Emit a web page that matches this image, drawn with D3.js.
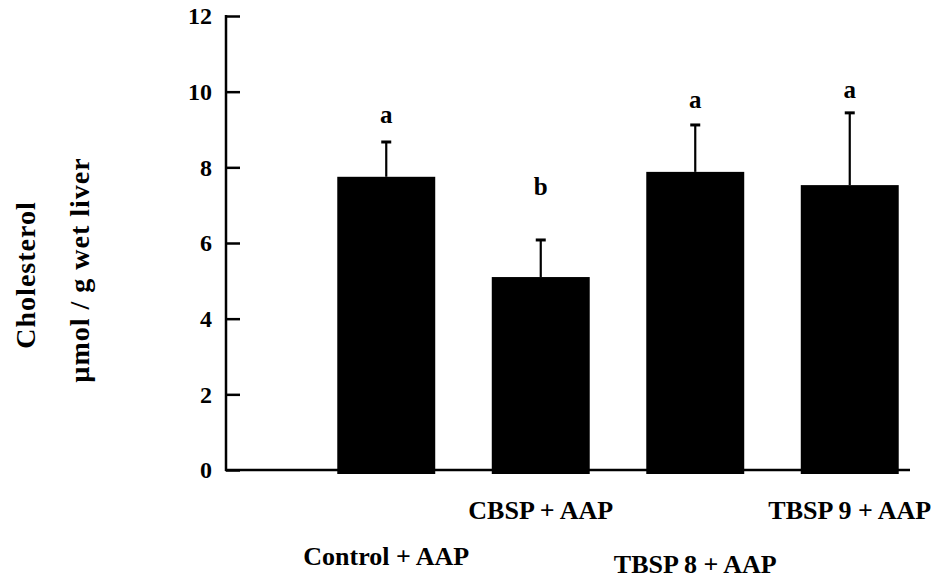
<!DOCTYPE html>
<html lang="en">

<head>
  <meta charset="UTF-8">
  <title>Cholesterol</title>
  <script src="https://d3js.org/d3.v7.min.js"></script>
  <style>
    body { margin: 0; background: #fff; }
    text { font-family: "Liberation Serif", "Times New Roman", serif; font-weight: bold; fill: #000; }
  </style>
</head>

<body>
  <div id="root"></div>
  <script>
    // values
    const groups = ['Control + AAP', 'CBSP + AAP', 'TBSP 8 + AAP', 'TBSP 9 + AAP'];
    const means = [7.75, 5.10, 7.88, 7.53];
    const sds = [0.92, 0.98, 1.24, 1.91];
    const letters = ['a', 'b', 'a', 'a'];
    const letterAt = [9.17, 7.27, 9.57, 9.83]; // height of the letter, in data units
    const yTicks = [0, 2, 4, 6, 8, 10, 12];

    const width = 933, height = 580;
    const svg = d3.select('#root').append('svg').attr('width', width).attr('height', height);

    const y = d3.scaleLinear().domain([0, 12]).range([470, 16]);
    const x = d3.scaleBand().domain(groups).range([309, 927])
      .paddingInner(0.366).paddingOuter(0.183);

    // bars
    svg.selectAll('rect.bar').data(groups).enter()
      .append('rect')
      .attr('class', 'bar')
      .attr('x', d => x(d))
      .attr('y', (d, i) => y(means[i]))
      .attr('width', x.bandwidth())
      .attr('height', (d, i) => y(0) - y(means[i]) + 4)
      .attr('fill', '#000');

    // error bars (upper only)
    const err = svg.selectAll('g.err').data(groups).enter()
      .append('g').attr('class', 'err')
      .attr('transform', d => `translate(${x(d) + x.bandwidth() / 2},0)`);
    err.append('line')
      .attr('x1', 0).attr('x2', 0)
      .attr('y1', (d, i) => y(means[i]))
      .attr('y2', (d, i) => y(means[i] + sds[i]))
      .attr('stroke', '#000').attr('stroke-width', 2.2);
    err.append('line')
      .attr('x1', -5).attr('x2', 5)
      .attr('y1', (d, i) => y(means[i] + sds[i]))
      .attr('y2', (d, i) => y(means[i] + sds[i]))
      .attr('stroke', '#000').attr('stroke-width', 3);

    // significance letters
    svg.selectAll('text.sig').data(groups).enter()
      .append('text').attr('class', 'sig')
      .attr('x', d => x(d) + x.bandwidth() / 2)
      .attr('y', (d, i) => y(letterAt[i]))
      .attr('text-anchor', 'middle')
      .style('font-size', '25px')
      .text((d, i) => letters[i]);

    // y axis with inward ticks
    const yAxis = d3.axisRight(y).tickValues(yTicks).tickSize(14).tickFormat('');
    const ya = svg.append('g').attr('transform', 'translate(226,0)').call(yAxis);
    ya.select('.domain').remove();
    ya.selectAll('.tick line').attr('stroke', '#000').attr('stroke-width', 2.5);
    svg.append('line')
      .attr('x1', 226).attr('x2', 226).attr('y1', y(12) - 1).attr('y2', y(0) + 1)
      .attr('stroke', '#000').attr('stroke-width', 2.5);

    svg.selectAll('text.ytick').data(yTicks).enter()
      .append('text').attr('class', 'ytick')
      .attr('x', 212)
      .attr('y', d => y(d))
      .attr('dy', '0.35em')
      .attr('text-anchor', 'end')
      .style('font-size', '24px')
      .text(d => d);

    // x axis baseline
    svg.append('line')
      .attr('x1', 225).attr('x2', 910).attr('y1', y(0)).attr('y2', y(0))
      .attr('stroke', '#000').attr('stroke-width', 2.5);

    // staggered group labels
    const rowY = [565, 519, 573, 519];
    svg.selectAll('text.xlab').data(groups).enter()
      .append('text').attr('class', 'xlab')
      .attr('x', d => x(d) + x.bandwidth() / 2)
      .attr('y', (d, i) => rowY[i])
      .attr('text-anchor', 'middle')
      .style('font-size', '26px')
      .text(d => d);

    // y title, two lines
    svg.append('text')
      .attr('transform', 'translate(35,275) rotate(-90)')
      .attr('text-anchor', 'middle')
      .style('font-size', '28px')
      .style('letter-spacing', '1px')
      .text('Cholesterol');
    svg.append('text')
      .attr('transform', 'translate(89,270) rotate(-90)')
      .attr('text-anchor', 'middle')
      .style('font-size', '28px')
      .style('letter-spacing', '1px')
      .text('µmol / g wet liver');
  </script>
</body>

</html>
